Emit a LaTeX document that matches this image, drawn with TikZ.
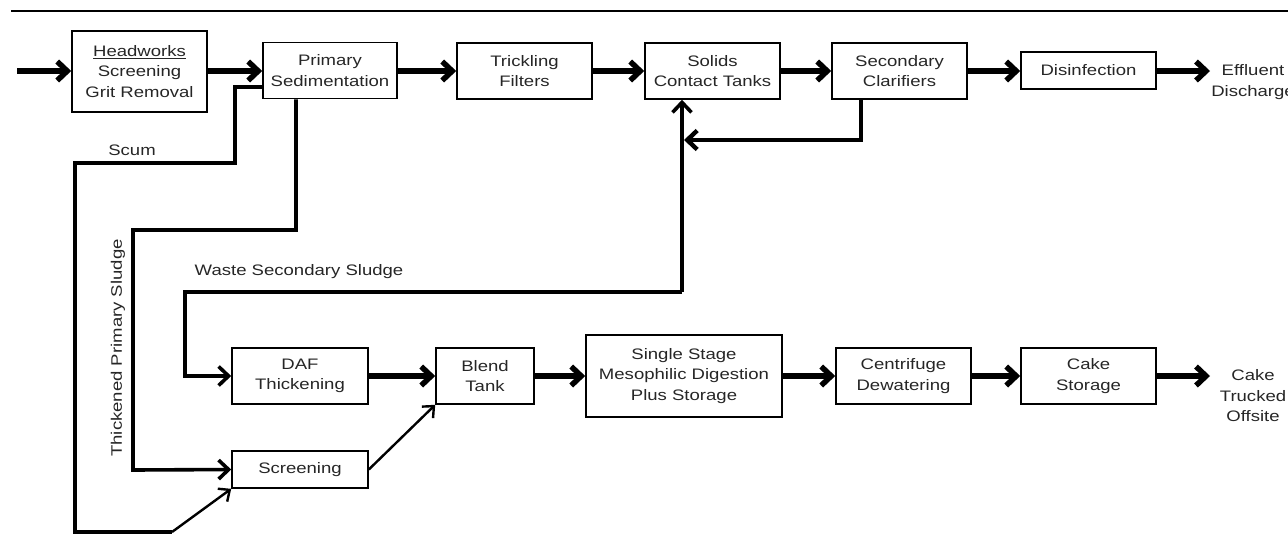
\documentclass[tikz,border=0pt]{standalone}
\usepackage{fontspec}
\setmainfont{Liberation Sans}[FakeStretch=1.22]
\usetikzlibrary{arrows.meta,calc}
\newcommand\dgfont{\fontsize{15.2}{20.5}\selectfont}
\begin{document}
\begin{tikzpicture}[x=1pt,y=-1pt,
  box/.style={draw, line width=1.6pt, inner sep=0pt, align=center, font=\dgfont, text=black!85},
  lbl/.style={inner sep=0pt, align=center, font=\dgfont, text=black!85},
  main/.style={line width=5.5pt, -{Straight Barb[length=10pt,width=19pt]}},
  link/.style={line width=3.6pt},
  linka/.style={link, -{Straight Barb[length=10pt,width=19pt]}},
  thinarr/.style={line width=2.4pt, -{Straight Barb[length=9pt,width=16pt]}}]
\useasboundingbox (0,0) rectangle (1288,542);
\draw[line width=1.6pt] (11,11) -- (1288,11);

% top row
\node[box, minimum width=135pt, minimum height=81pt] (head) at (139.5,71.5) {\underline{Headworks}\\Screening\\Grit Removal};
\node[box, minimum width=134pt, minimum height=56pt] (prim) at (330,70.5) {Primary\\Sedimentation};
\node[box, minimum width=135pt, minimum height=56pt] (trick) at (524.5,71) {Trickling\\Filters};
\node[box, minimum width=135pt, minimum height=56pt] (solids) at (712.5,71) {Solids\\Contact Tanks};
\node[box, minimum width=135pt, minimum height=56pt] (sec) at (899.5,71) {Secondary\\Clarifiers};
\node[box, minimum width=135pt, minimum height=37pt] (dis) at (1088.5,70.5) {Disinfection};
\node[lbl] (eff) at (1253,82) {Effluent\\Discharge};

% bottom row
\node[box, minimum width=136pt, minimum height=56pt] (daf) at (300,376) {DAF\\Thickening};
\node[box, minimum width=136pt, minimum height=37pt] (scr) at (300,469.5) {Screening};
\node[box, minimum width=98pt, minimum height=56pt] (blend) at (485,376) {Blend\\Tank};
\node[box, minimum width=196pt, minimum height=82pt] (dig) at (684,376) {Single Stage\\Mesophilic Digestion\\Plus Storage};
\node[box, minimum width=135pt, minimum height=56pt] (cent) at (903.5,376) {Centrifuge\\Dewatering};
\node[box, minimum width=135pt, minimum height=56pt] (cake) at (1088.5,376) {Cake\\Storage};
\node[lbl] (truck) at (1253,396) {Cake\\Trucked\\Offsite};

% labels
\node[lbl] (scum) at (132,150) {Scum};
\node[lbl] (wss) at (299,272) {Waste Secondary Sludge};
\node[lbl, rotate=90] (tps) at (118,348) {Thickened Primary Sludge};

% free ends
\coordinate (in) at (17,71);
\coordinate (effend) at (1210,71);
\coordinate (truckend) at (1210,376);
\coordinate (jn) at (682,292);

% main flow
\draw[main] (in) -- (head.west |- in);
\draw[main] (head.east |- in) -- (prim.west |- in);
\draw[main] (prim.east |- in) -- (trick.west |- in);
\draw[main] (trick.east |- in) -- (solids.west |- in);
\draw[main] (solids.east |- in) -- (sec.west |- in);
\draw[main] (sec.east |- in) -- (dis.west |- in);
\draw[main] (dis.east |- in) -- (effend);

\draw[main] (daf.east) -- (blend.west);
\draw[main] (blend.east) -- (dig.west);
\draw[main] (dig.east) -- (cent.west);
\draw[main] (cent.east) -- (cake.west);
\draw[main] (cake.east) -- (truckend);

% return sludge
\draw[linka, line width=4.4pt] (sec.south -| 861,0) -- (861,140) -- (684,140);
\draw[linka] (jn) -- (jn |- solids.south);
\draw[linka] (jn) -- (185,292) -- (185,376) -- (daf.west);

% scum
\draw[link] (prim.west |- 0,87) -- (235,87) -- (235,163) -- (75,163) -- (75,532) -- (172,532);
\draw[thinarr] (172,532) -- (scr.south west);

% thickened primary sludge
\draw[linka] (prim.south -| 296,0) -- (296,230) -- (133,230) -- (133,470) -- (scr.west);

% screening to blend
\draw[thinarr] (scr.east) -- (blend.south west);
\end{tikzpicture}
\end{document}
